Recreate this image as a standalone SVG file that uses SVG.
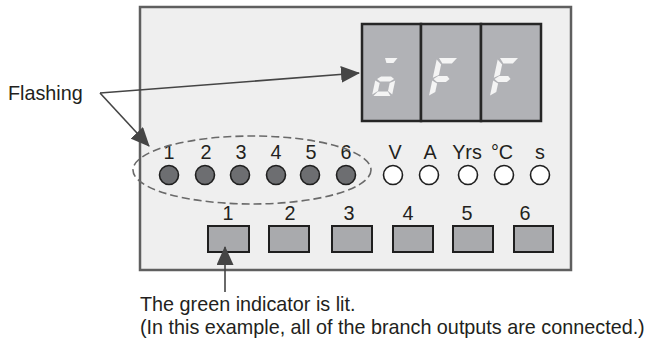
<svg xmlns="http://www.w3.org/2000/svg" width="647" height="343" viewBox="0 0 647 343">
  <style>
    text { font-family: "Liberation Sans", Arial, sans-serif; font-size: 19.8px; fill: #231f20; }
    .mid { text-anchor: middle; }
    .panel { fill: #efefef; stroke: #5f5f5f; stroke-width: 2.5; }
    .cell { fill: #b1b2b6; stroke: #262626; stroke-width: 2.5; }
    .seg { fill: #f4f4f4; }
    .led { fill: #6d6e71; stroke: #1f1f1f; stroke-width: 1.6; }
    .unit { fill: #ffffff; stroke: #1f1f1f; stroke-width: 1.6; }
    .btn { fill: #a9aaad; stroke: #1f1f1f; stroke-width: 2; }
    .lead { fill: none; stroke: #454545; stroke-width: 1.6; }
    .group { fill: none; stroke: #6a6a6a; stroke-width: 1.6; stroke-dasharray: 8 4; }
  </style>
  <defs>
    <marker id="arrow" viewBox="0 0 19 17" refX="18" refY="8.5" markerWidth="19" markerHeight="17" markerUnits="userSpaceOnUse" orient="auto">
      <path d="M0,0 L19,8.5 L0,17 z" fill="#454545"/>
    </marker>
    <g id="segF">
      <polygon points="2,0 20,0 16,5.5 6.5,5.5"/>
      <polygon points="0,1.5 5.5,6.5 5.5,17 0,19.8"/>
      <polygon points="1,21 5,18 14,18 17,21 14,24 5,24"/>
      <polygon points="0,22.5 5.5,25.5 5.5,34 0,37.5"/>
    </g>
    <g id="segO">
      <polygon points="5,0 17.5,0 14.5,5 7.5,5"/>
      <polygon points="1.5,21 5,18.5 15,18.5 18.5,21 15,23.5 5,23.5"/>
      <polygon points="0,22.5 5,25 5,33 0,36.5"/>
      <polygon points="20,22.5 20,36.5 15,33 15,25"/>
      <polygon points="1.5,38 18.5,38 15,33.5 5,33.5"/>
    </g>
  </defs>

  <g id="panel">
    <rect class="panel" x="140" y="7" width="431" height="263"/>
  </g>

  <g id="display">
    <rect class="cell" x="362" y="24" width="59" height="97"/>
    <rect class="cell" x="421" y="24" width="60" height="97"/>
    <rect class="cell" x="481" y="24" width="60" height="97"/>
    <use href="#segO" class="seg" transform="translate(380,58) skewX(-12)"/>
    <use href="#segF" class="seg" transform="translate(437,58) skewX(-12)"/>
    <use href="#segF" class="seg" transform="translate(498,58) skewX(-12)"/>
  </g>

  <g id="branch-indicators">
    <text class="mid" x="169" y="159">1</text>
    <text class="mid" x="206" y="159">2</text>
    <text class="mid" x="241" y="159">3</text>
    <text class="mid" x="276" y="159">4</text>
    <text class="mid" x="311" y="159">5</text>
    <text class="mid" x="346" y="159">6</text>
    <circle class="led" cx="169" cy="175" r="9.5"/>
    <circle class="led" cx="205" cy="175" r="9.5"/>
    <circle class="led" cx="240" cy="175" r="9.5"/>
    <circle class="led" cx="276" cy="175" r="9.5"/>
    <circle class="led" cx="310" cy="175" r="9.5"/>
    <circle class="led" cx="346" cy="175" r="9.5"/>
    <ellipse class="group" cx="252" cy="170" rx="119" ry="34"/>
  </g>

  <g id="unit-indicators">
    <text class="mid" x="395" y="159">V</text>
    <text class="mid" x="430" y="159">A</text>
    <text class="mid" x="467" y="159">Yrs</text>
    <text class="mid" x="502" y="159">°C</text>
    <text class="mid" x="540" y="159">s</text>
    <circle class="unit" cx="393" cy="175" r="9.5"/>
    <circle class="unit" cx="429" cy="175" r="9.5"/>
    <circle class="unit" cx="468" cy="175" r="9.5"/>
    <circle class="unit" cx="504" cy="175" r="9.5"/>
    <circle class="unit" cx="540" cy="175" r="9.5"/>
  </g>

  <g id="buttons">
    <text class="mid" x="228" y="220">1</text>
    <text class="mid" x="290" y="220">2</text>
    <text class="mid" x="349" y="220">3</text>
    <text class="mid" x="408" y="220">4</text>
    <text class="mid" x="467" y="220">5</text>
    <text class="mid" x="525" y="220">6</text>
    <rect class="btn" x="208" y="226" width="41" height="26"/>
    <rect class="btn" x="269" y="226" width="40" height="26"/>
    <rect class="btn" x="332" y="226" width="40" height="26"/>
    <rect class="btn" x="393" y="226" width="40" height="26"/>
    <rect class="btn" x="453" y="226" width="40" height="26"/>
    <rect class="btn" x="514" y="226" width="39" height="26"/>
  </g>

  <g id="label-flashing">
    <text x="8" y="100">Flashing</text>
  </g>

  <g id="label-green">
    <text x="140" y="311">The green indicator is lit.</text>
    <text x="140" y="334">(In this example, all of the branch outputs are connected.)</text>
  </g>

  <g id="connectors">
    <line class="lead" x1="100" y1="93" x2="359" y2="73" marker-end="url(#arrow)"/>
    <line class="lead" x1="100" y1="93" x2="149" y2="146" marker-end="url(#arrow)"/>
    <line class="lead" x1="225" y1="292" x2="225" y2="247" marker-end="url(#arrow)"/>
  </g>
</svg>
